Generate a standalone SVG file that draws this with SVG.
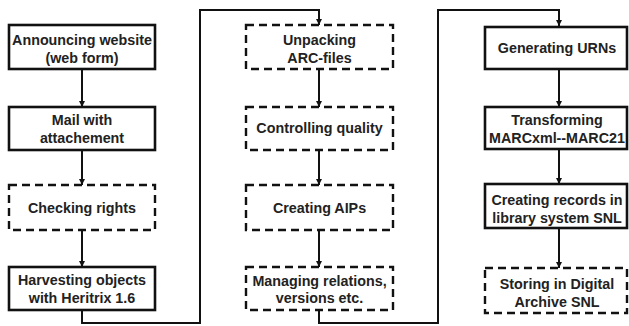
<svg xmlns="http://www.w3.org/2000/svg" width="629" height="326" viewBox="0 0 629 326">
<defs>
<marker id="ah" viewBox="0 0 6 6" refX="6" refY="3" markerWidth="6" markerHeight="6" markerUnits="userSpaceOnUse" orient="auto">
<path d="M0 0 L6 3 L0 6 Z" fill="#111"/>
</marker>
<style>
.box{fill:#fff;stroke:#111;stroke-width:2.6}
.dash{fill:#fff;stroke:#111;stroke-width:2.4;stroke-dasharray:8 5}
.c{fill:none;stroke:#111;stroke-width:2}
text{font-family:"Liberation Sans",Arial,sans-serif;font-weight:bold;font-size:14.3px;fill:#222;text-anchor:middle}
</style>
</defs>
<rect width="629" height="326" fill="#fff"/>
<g id="connectors">
<path class="c" d="M82 69 V107" marker-end="url(#ah)"/>
<path class="c" d="M82 150 V185" marker-end="url(#ah)"/>
<path class="c" d="M82 230 V267" marker-end="url(#ah)"/>
<path class="c" d="M82 310 V323 H200 V10 H319 V25" marker-end="url(#ah)"/>
<path class="c" d="M319 69 V107" marker-end="url(#ah)"/>
<path class="c" d="M319 150 V185" marker-end="url(#ah)"/>
<path class="c" d="M319 230 V267" marker-end="url(#ah)"/>
<path class="c" d="M319 310 V323 H438 V10 H559 V26" marker-end="url(#ah)"/>
<path class="c" d="M559 69 V107" marker-end="url(#ah)"/>
<path class="c" d="M559 149 V184" marker-end="url(#ah)"/>
<path class="c" d="M559 228 V268" marker-end="url(#ah)"/>
</g>
<g id="n1"><rect class="box" x="9" y="25" width="146" height="44"/><text x="82" y="45">Announcing website</text><text x="82" y="63">(web form)</text></g>
<g id="n2"><rect class="box" x="9" y="107" width="146" height="43"/><text x="82" y="124.5">Mail with</text><text x="82" y="142.5">attachement</text></g>
<g id="n3"><rect class="dash" x="9" y="185" width="146" height="45"/><text x="82" y="213">Checking rights</text></g>
<g id="n4"><rect class="box" x="9" y="267" width="146" height="43"/><text x="82" y="284.5">Harvesting objects</text><text x="82" y="302.5">with Heritrix 1.6</text></g>
<g id="n5"><rect class="dash" x="246" y="25" width="147" height="44"/><text x="319.5" y="44.5">Unpacking</text><text x="319.5" y="62.5">ARC-files</text></g>
<g id="n6"><rect class="dash" x="246" y="107" width="147" height="43"/><text x="319.5" y="133">Controlling quality</text></g>
<g id="n7"><rect class="dash" x="246" y="185" width="147" height="45"/><text x="319.5" y="213">Creating AIPs</text></g>
<g id="n8"><rect class="dash" x="246" y="267" width="147" height="43"/><text x="319.5" y="285.5">Managing relations,</text><text x="319.5" y="302.5">versions etc.</text></g>
<g id="n9"><rect class="box" x="485" y="27" width="142" height="42"/><text x="557" y="53">Generating URNs</text></g>
<g id="n10"><rect class="box" x="485" y="107" width="142" height="42"/><text x="557" y="124.5">Transforming</text><text x="557" y="142.5">MARCxml--MARC21</text></g>
<g id="n11"><rect class="box" x="485" y="184" width="142" height="44"/><text x="557" y="204.5">Creating records in</text><text x="557" y="222.5">library system SNL</text></g>
<g id="n12"><rect class="dash" x="485" y="268" width="142" height="45"/><text x="557" y="288.5">Storing in Digital</text><text x="557" y="307">Archive SNL</text></g>
</svg>
